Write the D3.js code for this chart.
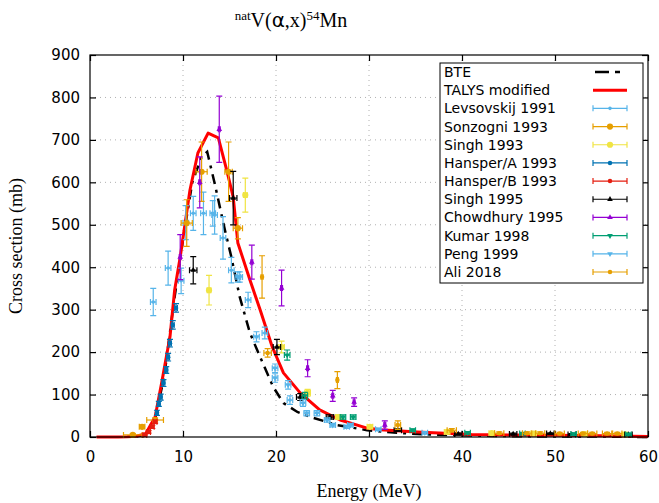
<!DOCTYPE html>
<html>
<head>
<meta charset="utf-8">
<script src="https://cdn.jsdelivr.net/npm/d3@7"></script>
<style>
  body { margin: 0; background: #fff; }
  .tick text { font-family: "DejaVu Sans", sans-serif; font-size: 15px; }
  .label { font-family: "Liberation Serif", serif; font-size: 18px; }
  .legend text { font-family: "DejaVu Sans", sans-serif; font-size: 14px; }
</style>
</head>
<body>
<div id="chart"></div>
<script>
// model curves: [energy MeV, cross section mb]
var bteCurve = [[5,1],[6,6],[7,42],[8,145],[9,315],[10,465],[11,600],[12,660],[12.6,672],
  [13.4,598],[14.5,488],[15.2,424],[16.1,330],[17.2,245],[18.3,188],[19.7,118],[20.8,80],
  [22.3,59],[24,45],[26.6,28],[29.8,16],[33,10],[36,6],[40,4],[45,2],[50,1],[55,1],[60,0]];
var talysCurve = [[0.7,0],[2,0],[3,0],[4,0.5],[5,2],[6,8],[7,47],[7.7,127],[8.6,236],[9.1,346],
  [9.7,424],[10.75,582],[11.6,669],[12.7,716],[13.8,705],[14.7,629],[15.4,565],[15.9,457],
  [17.2,370],[18.3,299],[19.6,212],[20.8,151],[22.6,104],[24.7,64],[26.9,40],[29.8,21],
  [31.2,17],[35.2,12],[41,6],[45,5],[50,4],[55,3],[60,1]];

// experimental data: [energy, cross section, dE, dSigma]
var levsovskij1991 = [[6.8,318,0.3,32],[8.4,398,0.3,40],[9.8,368,0.3,30],[10.3,505,0.3,40],
  [11.1,527,0.3,40],[12.2,527,0.3,50],[13.4,523,0.3,45],[14.3,469,0.3,50],[15.2,393,0.3,30],
  [17.0,323,0.3,18],[18.8,245,0.3,14],[21.5,87,0.3,10]];
var sonzogni1993 = [[4.6,5,1.0,3],[5.6,24,0.3,4],[7.0,40,0.9,5],[10.4,504,0.6,55],[12.0,625,0.6,70],
  [14.9,625,0.4,70],[15.9,492,0.5,25]];
var singh1993 = [[12.8,346,0.2,35],[16.7,570,0.2,40],[20.6,212,0.3,14],[23.4,104,0.3,8],
  [26.7,47,0.3,5],[30.1,24,0.3,4],[38.4,12,0.3,3],[43.2,9,0.3,3],[47.7,8,0.3,3],[53.2,7,0.3,3],[57.5,6,0.3,3]];
var hansperA1993 = [[7.2,57,0.15,6],[7.4,78,0.15,6],[7.6,94,0.15,7],[7.9,127,0.15,8],[8.2,158,0.15,8],
  [8.4,188,0.15,9],[8.6,221,0.15,9],[8.9,264,0.15,10],[9.25,304,0.15,10]];
var hansperB1993 = [[5.9,5,0.2,2],[6.3,12,0.2,3],[6.7,24,0.2,4],[7.0,36,0.2,4]];
var singh1995 = [[11.1,393,0.4,32],[15.4,563,0.4,63],[20.1,212,0.4,18],[22.6,94,0.4,8],
  [25.8,47,0.4,5],[33.1,16,0.4,3],[39.6,7,0.4,2],[45.5,7,0.4,2],[49.5,8,0.4,2],[51.8,6,0.4,2],[57.9,6,0.4,2]];
var chowdhury1995 = [[9.7,424,0.1,53],[11.8,600,0.1,60],[13.9,725,0.1,78],[17.4,412,0.1,40],
  [20.6,351,0.1,42],[23.4,162,0.1,20],[26.1,97,0.1,13],[28.4,82,0.1,10],[31.7,28,0.1,10]];
var kumar1998 = [[21.2,193,0.3,12],[23.1,97,0.3,8],[27.2,47,0.3,5],[28.3,47,0.3,5],[34.7,16,0.3,3],
  [40.6,10,0.3,3],[46.5,8,0.3,3],[52.0,7,0.3,3],[57.9,6,0.3,3]];
var peng1999 = [[13.2,527,0.3,30],[15.9,377,0.3,12],[16.1,377,0.3,12],[17.9,236,0.3,12],[19.9,162,0.3,10],
  [19.9,139,0.3,10],[21.3,123,0.3,10],[22.9,80,0.3,8],[23.3,56,0.3,6],[24.4,56,0.3,6],
  [25.5,40,0.3,5],[26.1,28,0.3,4],[27.6,24,0.3,4],[28.0,28,0.3,4],[31.0,18,0.3,3],[36.0,10,0.3,3]];
var ali2018 = [[18.5,377,0.1,50],[19.1,198,0.4,10],[26.6,134,0.1,20],[33.1,28,0.3,10],[38.9,16,0.5,4],
  [44.0,9,0.5,3],[47.0,9,0.5,3],[48.4,9,0.5,3],[50.5,8,0.5,3],[53.0,8,0.5,3],[54.0,8,0.5,3],
  [55.6,8,0.5,3],[56.7,8,0.5,3]];

var xTicks = [0,10,20,30,40,50,60];
var yTicks = [0,100,200,300,400,500,600,700,800,900];

var series = [
  {name: "Levsovskij 1991", data: levsovskij1991, color: "#56b4e9", shape: d3.symbolCircle, size: 10},
  {name: "Sonzogni 1993", data: sonzogni1993, color: "#e69f00", shape: d3.symbolCircle, size: 30},
  {name: "Singh 1993", data: singh1993, color: "#f0e442", shape: d3.symbolCircle, size: 30},
  {name: "Hansper/A 1993", data: hansperA1993, color: "#0072b2", shape: d3.symbolCircle, size: 16},
  {name: "Hansper/B 1993", data: hansperB1993, color: "#e51e10", shape: d3.symbolCircle, size: 16},
  {name: "Singh 1995", data: singh1995, color: "#000000", shape: d3.symbolTriangle, size: 14, rot: 0},
  {name: "Chowdhury 1995", data: chowdhury1995, color: "#9400d3", shape: d3.symbolTriangle, size: 14, rot: 0},
  {name: "Kumar 1998", data: kumar1998, color: "#009e73", shape: d3.symbolTriangle, size: 14, rot: 180},
  {name: "Peng 1999", data: peng1999, color: "#56b4e9", shape: d3.symbolTriangle, size: 14, rot: 180},
  {name: "Ali 2018", data: ali2018, color: "#e69f00", shape: d3.symbolCircle, size: 16}
];

var W = 659, H = 503;
var margin = {top: 55, right: 11, bottom: 66, left: 90};
var width = W - margin.left - margin.right;
var height = H - margin.top - margin.bottom;

var svg = d3.select("#chart").append("svg")
    .attr("width", W).attr("height", H)
  .append("g")
    .attr("transform", "translate(" + margin.left + "," + margin.top + ")");

var x = d3.scaleLinear().domain([0, 60]).range([0, width]);
var y = d3.scaleLinear().domain([0, 900]).range([height, 0]);

// grid
svg.append("g").selectAll("line").data(xTicks.slice(1, -1)).enter().append("line")
    .attr("x1", x).attr("x2", x).attr("y1", 0).attr("y2", height)
    .attr("stroke", "#b0b0b0").attr("stroke-width", 1).attr("stroke-dasharray", "1,4");
svg.append("g").selectAll("line").data(yTicks.slice(1, -1)).enter().append("line")
    .attr("y1", y).attr("y2", y).attr("x1", 0).attr("x2", width)
    .attr("stroke", "#b0b0b0").attr("stroke-width", 1).attr("stroke-dasharray", "1,4");

// axes, ticks pointing inward and mirrored
function styleAxis(g) {
  g.select(".domain").remove();
  g.selectAll(".tick line").attr("stroke", "#000").attr("stroke-width", 1.2);
}
svg.append("g").attr("transform", "translate(0," + height + ")")
    .call(d3.axisBottom(x).tickValues(xTicks).tickSize(-6).tickPadding(14))
    .call(styleAxis);
svg.append("g")
    .call(d3.axisTop(x).tickValues(xTicks).tickSize(-6).tickFormat(""))
    .call(styleAxis);
svg.append("g")
    .call(d3.axisLeft(y).tickValues(yTicks).tickSize(-6).tickPadding(10))
    .call(styleAxis);
svg.append("g").attr("transform", "translate(" + width + ",0)")
    .call(d3.axisRight(y).tickValues(yTicks).tickSize(-6).tickFormat(""))
    .call(styleAxis);
svg.selectAll(".tick text").attr("fill", "#000");

var line = d3.line().x(function(d) { return x(d[0]); }).y(function(d) { return y(d[1]); });

var plot = svg.append("g");

plot.append("path").datum(bteCurve)
    .attr("d", line).attr("fill", "none")
    .attr("stroke", "#000").attr("stroke-width", 2.5)
    .attr("stroke-dasharray", "10,6,3,6");
plot.append("path").datum(talysCurve)
    .attr("d", line).attr("fill", "none")
    .attr("stroke", "#ff0000").attr("stroke-width", 3).attr("stroke-linejoin", "round");

// error bars + points
var cap = 3;
series.forEach(function(s) {
  var g = plot.append("g").attr("stroke", s.color).attr("fill", s.color).attr("stroke-width", 1.2);
  var pts = g.selectAll(".pt").data(s.data).enter().append("g");
  pts.append("line")
      .attr("x1", function(d) { return x(d[0] - d[2]); }).attr("x2", function(d) { return x(d[0] + d[2]); })
      .attr("y1", function(d) { return y(d[1]); }).attr("y2", function(d) { return y(d[1]); });
  pts.append("line")
      .attr("x1", function(d) { return x(d[0]); }).attr("x2", function(d) { return x(d[0]); })
      .attr("y1", function(d) { return y(d[1] - d[3]); }).attr("y2", function(d) { return y(d[1] + d[3]); });
  // caps
  pts.append("path").attr("fill", "none").attr("d", function(d) {
    var cx = x(d[0]), cy = y(d[1]), xl = x(d[0] - d[2]), xr = x(d[0] + d[2]),
        yt = y(d[1] + d[3]), yb = y(d[1] - d[3]);
    return "M" + (cx - cap) + "," + yt + "H" + (cx + cap) +
           "M" + (cx - cap) + "," + yb + "H" + (cx + cap) +
           "M" + xl + "," + (cy - cap) + "V" + (cy + cap) +
           "M" + xr + "," + (cy - cap) + "V" + (cy + cap);
  });
  pts.append("path")
      .attr("stroke", "none")
      .attr("d", d3.symbol().type(s.shape).size(s.size))
      .attr("transform", function(d) {
        return "translate(" + x(d[0]) + "," + y(d[1]) + ")" + (s.rot ? " rotate(" + s.rot + ")" : "");
      });
});

// frame
svg.append("rect").attr("width", width).attr("height", height)
    .attr("fill", "none").attr("stroke", "#000").attr("stroke-width", 1.2);

// legend
var leg = svg.append("g").attr("class", "legend")
    .attr("transform", "translate(" + (440 - margin.left) + "," + (63 - margin.top) + ")");
leg.append("rect").attr("width", 203).attr("height", 220)
    .attr("fill", "#fff").attr("stroke", "#000").attr("stroke-width", 1);
var rows = [{name: "BTE"}, {name: "TALYS modified"}].concat(series);
var rowH = 200 / (rows.length - 1), x0 = 153, x1 = 187;
rows.forEach(function(r, i) {
  var cy = 9 + i * rowH;
  leg.append("text").attr("x", 4).attr("y", cy + 5).text(r.name);
  if (i === 0) {
    leg.append("line").attr("x1", x0 + 2).attr("x2", x1).attr("y1", cy).attr("y2", cy)
        .attr("stroke", "#000").attr("stroke-width", 2.5).attr("stroke-dasharray", "14,6,5,20");
  } else if (i === 1) {
    leg.append("line").attr("x1", x0).attr("x2", x1).attr("y1", cy).attr("y2", cy)
        .attr("stroke", "#ff0000").attr("stroke-width", 3);
  } else {
    var g = leg.append("g").attr("stroke", r.color).attr("fill", r.color).attr("stroke-width", 1.2);
    g.append("path").attr("fill", "none")
        .attr("d", "M" + x0 + "," + cy + "H" + x1 + "M" + x0 + "," + (cy - cap) + "V" + (cy + cap) +
                   "M" + x1 + "," + (cy - cap) + "V" + (cy + cap));
    g.append("path").attr("stroke", "none")
        .attr("d", d3.symbol().type(r.shape).size(r.size))
        .attr("transform", "translate(" + ((x0 + x1) / 2) + "," + cy + ")" + (r.rot ? " rotate(" + r.rot + ")" : ""));
  }
});

// axis labels
svg.append("text").attr("class", "label")
    .attr("x", width / 2).attr("y", height + 60).attr("text-anchor", "middle")
    .text("Energy (MeV)");
svg.append("text").attr("class", "label")
    .attr("transform", "translate(" + (-68) + "," + (height / 2) + ") rotate(-90)")
    .attr("text-anchor", "middle")
    .text("Cross section (mb)");

// title
var title = d3.select("svg").append("text").attr("class", "label")
    .attr("x", 291).attr("y", 27).attr("text-anchor", "middle").style("font-size", "20px");
title.append("tspan").attr("dy", "-7").style("font-size", "13px").text("nat");
title.append("tspan").attr("dy", "7").text("V(");
title.append("tspan").style("font-family", "DejaVu Sans").text("α");
title.append("tspan").text(",x)");
title.append("tspan").attr("dy", "-7").style("font-size", "13px").text("54");
title.append("tspan").attr("dy", "7").text("Mn");
</script>
</body>
</html>
